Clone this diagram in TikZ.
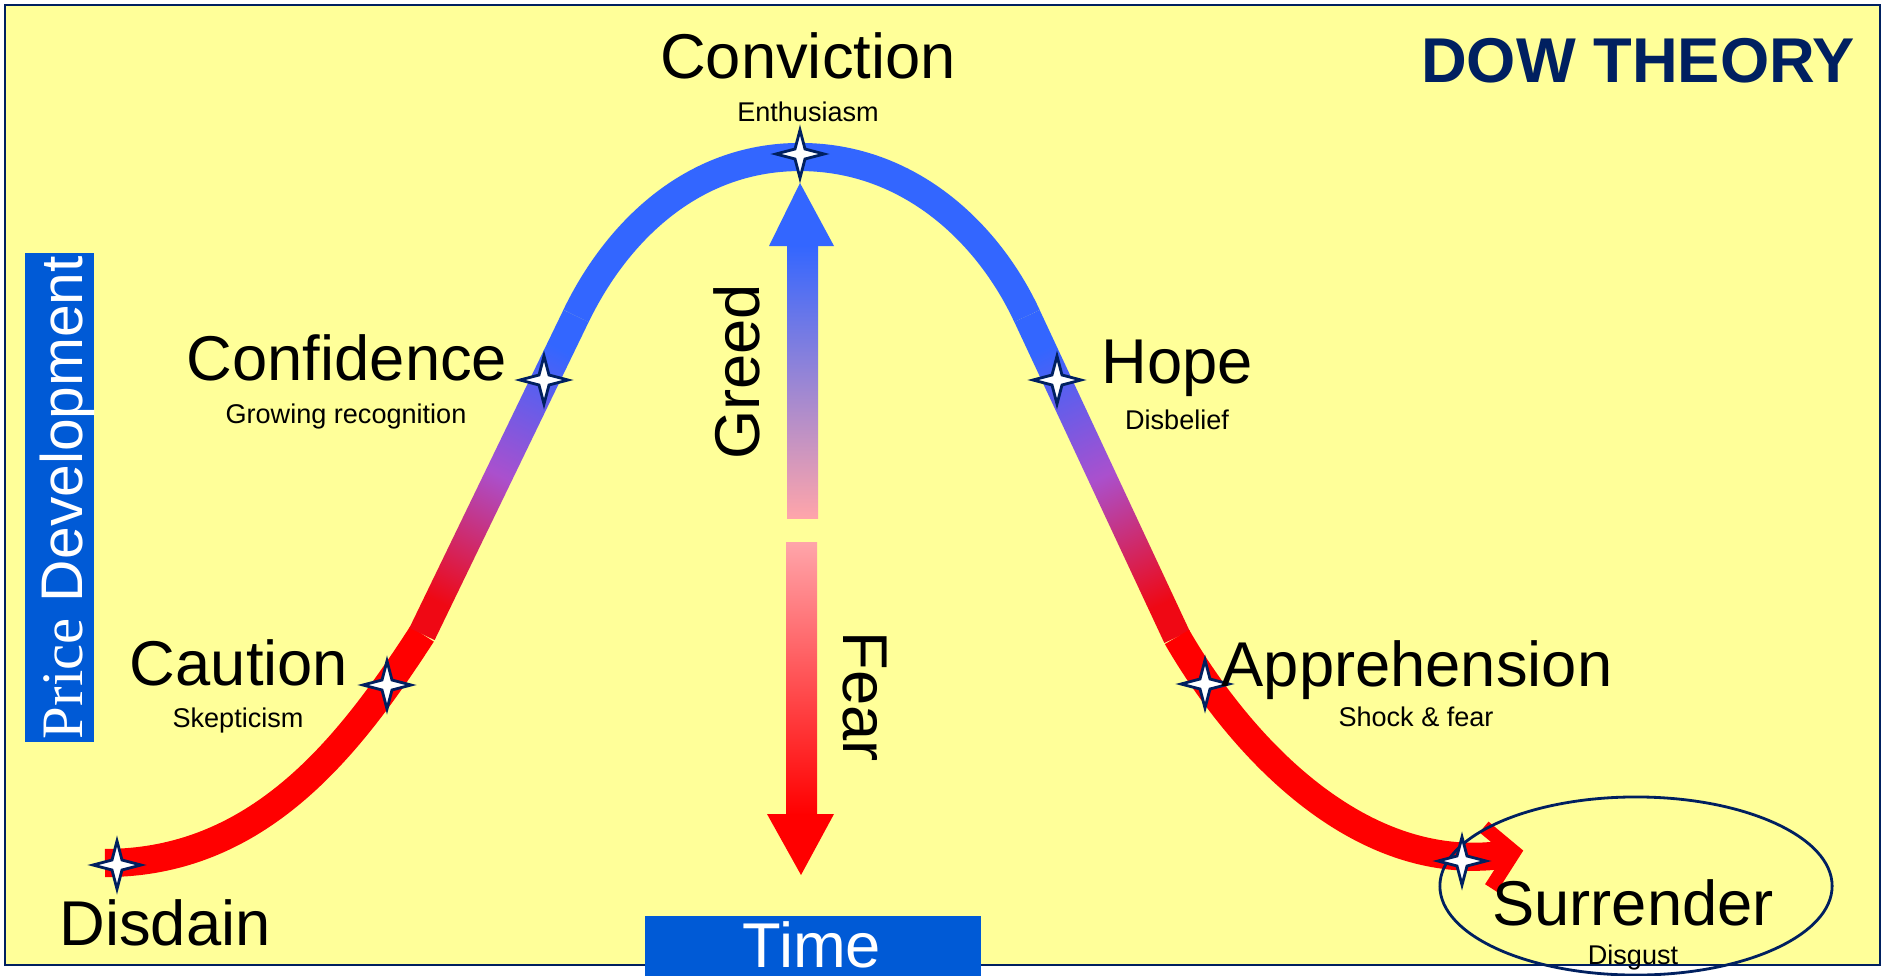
\documentclass[tikz,border=0pt]{standalone}
\usepackage{fontspec}
\setmainfont{Liberation Sans}
\newfontfamily\timesface{Liberation Serif}
\usepackage{xcolor}
\usepackage{tikz}
\usetikzlibrary{arrows.meta, positioning, shapes.geometric, calc}

\definecolor{paper}{RGB}{255,255,153}
\definecolor{frameblue}{RGB}{0,32,96}
\definecolor{labelblue}{RGB}{0,90,214}
\definecolor{bullblue}{RGB}{51,102,255}
\definecolor{bearred}{RGB}{255,0,0}
\definecolor{midpurple}{RGB}{170,80,205}
\definecolor{softpink}{RGB}{255,165,170}

\begin{document}
\begin{tikzpicture}[
x=0.01cm,
y=-0.01cm,
big/.style={
font=\fontsize{18}{21}\selectfont,
anchor=base,
inner sep=0pt
},
small/.style={
font=\fontsize{7.7}{9}\selectfont,
anchor=base,
inner sep=0pt
},
sparkle/.style={
star,
star points=4,
star point ratio=3.4,
draw=frameblue,
fill=white,
line width=0.8pt,
minimum size=0.48cm,
inner sep=0pt
},
band/.style={
line width=8pt
},
turn/.style={
bottom color=bearred!92!bullblue,
top color=bullblue,
middle color=midpurple
}
]

\useasboundingbox (0,0) rectangle (1885,976);
\draw[frameblue, fill=paper, line width=0.6pt] (5,5) rectangle (1880,965);

\coordinate (start) at (105,863);
\coordinate (lowL) at (422,634);
\coordinate (topL) at (576,316);
\coordinate (peak) at (800,157);
\coordinate (topR) at (1027,316);
\coordinate (lowR) at (1177,637);
\coordinate (tail) at (1508,854);
\coordinate (tip) at (1514,852);

% price curve
\draw[band, bearred] (start) .. controls (260,863) and (350,745) .. (lowL);
\shade[turn, shading angle=-25.8]
($(lowL)!0.14cm!90:(topL)$) -- ($(lowL)!0.14cm!-90:(topL)$) --
($(topL)!0.14cm!90:(lowL)$) -- ($(topL)!0.14cm!-90:(lowL)$) -- cycle;
\draw[band, bullblue] (topL) .. controls (615,235) and (690,157) .. (peak)
.. controls (910,157) and (989,234) .. (topR);
\shade[turn, shading angle=25.2]
($(lowR)!0.14cm!90:(topR)$) -- ($(lowR)!0.14cm!-90:(topR)$) --
($(topR)!0.14cm!90:(lowR)$) -- ($(topR)!0.14cm!-90:(lowR)$) -- cycle;
\draw[band, bearred] (lowR) .. controls (1237,741) and (1358,878) .. (tail);
\draw[bearred, line width=4pt, line join=miter] (1484,827) -- (tip) -- (1491,888);

% greed and fear
\shade[top color=bullblue, bottom color=softpink] (787,245) rectangle (818,518);
\fill[bullblue] (769,246) -- (800,183) -- (834,246) -- cycle;
\shade[top color=softpink, bottom color=bearred] (786,542) rectangle (817,815);
\fill[bearred] (767,814) -- (801,875) -- (834,814) -- cycle;

\node[ellipse, draw=frameblue, line width=0.8pt, minimum width=3.92cm, minimum height=1.78cm, inner sep=0pt] (pit) at (1636,886) {};

\node[sparkle] (sdisdain) at (117,865) {};
\node[sparkle] (scaution) at (387,685) {};
\node[sparkle] (sconfidence) at (544,380) {};
\node[sparkle] (sconviction) at (800,154) {};
\node[sparkle] (shope) at (1057,380) {};
\node[sparkle] (sapprehension) at (1205,684) {};
\node[sparkle] (ssurrender) at (1462,861) {};

\node[big] (disdain) at (165,945) {Disdain};
\node[big] (caution) at (239,685) {Caution};
\node[small] (skepticism) at (238,727) {Skepticism};
\node[big] (confidence) at (347,380) {Confidence};
\node[small] (recognition) at (346,423) {Growing recognition};
\node[big] (conviction) at (808,79) {Conviction};
\node[small] (enthusiasm) at (808,122) {Enthusiasm};
\node[big] (hope) at (1177,383) {Hope};
\node[small] (disbelief) at (1177,429) {Disbelief};
\node[big] (apprehension) at (1417,686) {Apprehension};
\node[small] (shock) at (1416,726) {Shock \& fear};
\node[big] (surrender) at (1633,925) {Surrender};
\node[small] (disgust) at (1633,964) {Disgust};
\node[big, font=\fontsize{18}{21}\selectfont\bfseries, text=frameblue] (title) at (1638,83) {DOW THEORY};

\node[big, rotate=90, anchor=center] (greed) at (737,372) {Greed};
\node[big, rotate=-90, anchor=center] (fear) at (865,697) {Fear};

\fill[labelblue] (645,916) rectangle (981,976);
\node[big, text=white] (time) at (812,967) {Time};
\fill[labelblue] (25,253) rectangle (94,742);
\node[rotate=90, anchor=base, text=white, font=\fontsize{16.7}{19}\selectfont, inner sep=0pt] (price) at (82,497.5) {{\timesface Price} Development};

\end{tikzpicture}
\end{document}
